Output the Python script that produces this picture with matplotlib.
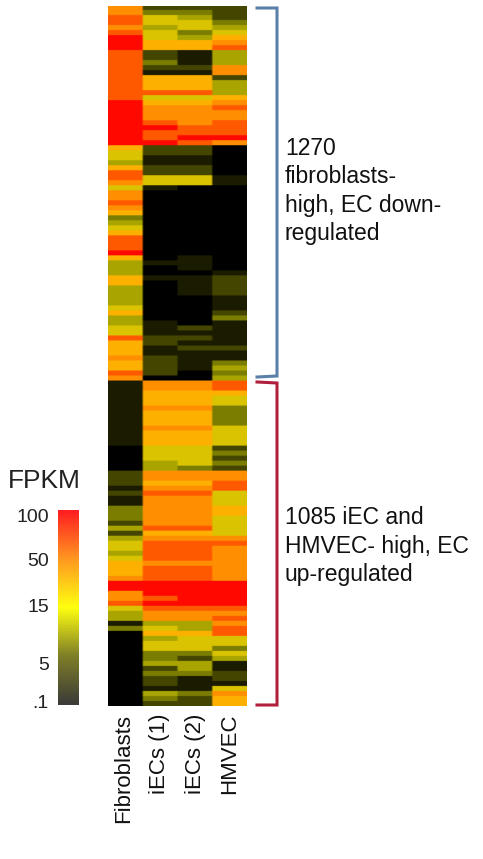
import numpy as np
import matplotlib
matplotlib.use('Agg')
import matplotlib.pyplot as plt
from matplotlib.colors import LinearSegmentedColormap
from matplotlib.lines import Line2D

plt.rcParams['font.family'] = ['Liberation Sans', 'DejaVu Sans']

W, H = 483, 859

samples = ['Fibroblasts', 'iECs (1)', 'iECs (2)', 'HMVEC']
legend_title = 'FPKM'
legend_ticks = ['100', '50', '15', '5', '.1']
down_label = '1270\nfibroblasts-\nhigh, EC down-\nregulated'
up_label = '1085 iEC and\nHMVEC- high, EC\nup-regulated'

# colour level 0-9 per row, one digit per sample, top to bottom
ec_down_rows = [
    '7222', '7332', '8542', '8553', '7454', '8535', '9546', '9667', '9668', '8214',
    '8214', '8314', '8227', '8117', '8662', '8664', '8664', '8884', '8556', '9667',
    '9778', '9777', '9777', '9878', '9988', '9888', '9899', '9987', '6220', '5220',
    '5110', '4110', '6220', '8220', '8551', '7551', '5100', '7000', '7000', '8000',
    '7000', '6000', '3000', '4000', '5000', '6000', '8000', '8000', '8000', '9000',
    '6010', '4110', '4010', '4001', '6112', '6012', '4012', '4012', '4001', '4001',
    '5001', '6002', '4003', '4101', '5121', '5111', '8221', '6211', '6122', '6111',
    '7211', '6213', '6214', '8203', '7004',
]
ec_up_rows = [
    '1778', '1778', '1666', '1665', '1665', '1773', '1663', '1663', '1663', '1775',
    '1665', '1665', '1665', '0552', '0553', '0552', '0453', '0432', '2777', '2777',
    '2668', '1778', '2885', '1775', '1775', '3776', '3776', '3775', '2775', '4885',
    '2665', '4777', '5888', '5887', '4887', '5887', '6777', '6887', '6887', '7887',
    '9999', '9999', '7999', '7899', '8999', '5888', '4777', '4778', '1447', '3548',
    '0668', '0455', '0555', '0553', '0335', '0324', '0441', '0241', '0332', '0212',
    '0211', '0115', '0437', '0326', '0226',
]

heat_cmap = LinearSegmentedColormap.from_list('heat', [
    (0.0, '#000000'), (0.11, '#1c1c00'), (0.22, '#454700'), (0.33, '#7a7c00'),
    (0.44, '#a8a400'), (0.56, '#dcc400'), (0.67, '#ffb000'), (0.78, '#ff9000'),
    (0.89, '#ff5a00'), (1.0, '#ff0800'),
])
legend_cmap = LinearSegmentedColormap.from_list('legend', [
    (0.0, '#3c3c38'), (0.25, '#808028'), (0.5, '#ffff10'), (0.75, '#ff9a20'), (1.0, '#ff2020'),
])


def axes_px(fig, x0, y0, x1, y1):
    return fig.add_axes([x0 / W, 1 - y1 / H, (x1 - x0) / W, (y1 - y0) / H])


def bracket(fig, xs, ys, color):
    fig.add_artist(Line2D(np.array(xs) / W, 1 - np.array(ys) / H, color=color, lw=2.2,
                          solid_joinstyle='miter', transform=fig.transFigure))


fig = plt.figure(figsize=(W / 100, H / 100), dpi=100, facecolor='white')

rows = ec_down_rows + ec_up_rows
Z = np.array([[int(c) for c in r] for r in rows]) / 9
# repeat cells so the smoothing only softens edges, like the scanned original
Z = np.repeat(np.repeat(Z, 3, axis=0), 12, axis=1)
ax = axes_px(fig, 108, 6, 247, 706)
ax.imshow(Z, cmap=heat_cmap, vmin=0, vmax=1, aspect='auto', interpolation='hanning')
ax.axis('off')

for label, x in zip(samples, [124, 160, 195, 230]):
    fig.text(x / W, 1 - 714 / H, label, rotation=90, ha='center', va='top', fontsize=16, color='#111111')

bar = axes_px(fig, 58, 510, 79, 705)
bar.imshow(np.linspace(1, 0, 64)[:, None], cmap=legend_cmap, aspect='auto', interpolation='bilinear')
bar.axis('off')
fig.text(44 / W, 1 - 481 / H, legend_title, ha='center', va='center', fontsize=19, color='#222222')
for label, y in zip(legend_ticks, [517, 561, 607, 666, 703]):
    fig.text(49 / W, 1 - y / H, label, ha='right', va='center', fontsize=14, color='#222222')

bracket(fig, [257, 277, 277, 257], [8, 8, 376, 377], '#5a7fa8')
bracket(fig, [257, 277, 277, 257], [382, 383, 705, 705], '#b0203c')

fig.text(285 / W, 1 - 191 / H, down_label, ha='left', va='center', fontsize=16.5, linespacing=1.3, color='#111111')
fig.text(285 / W, 1 - 546 / H, up_label, ha='left', va='center', fontsize=16.5, linespacing=1.3, color='#111111')

fig.savefig('out.png', dpi=100)
